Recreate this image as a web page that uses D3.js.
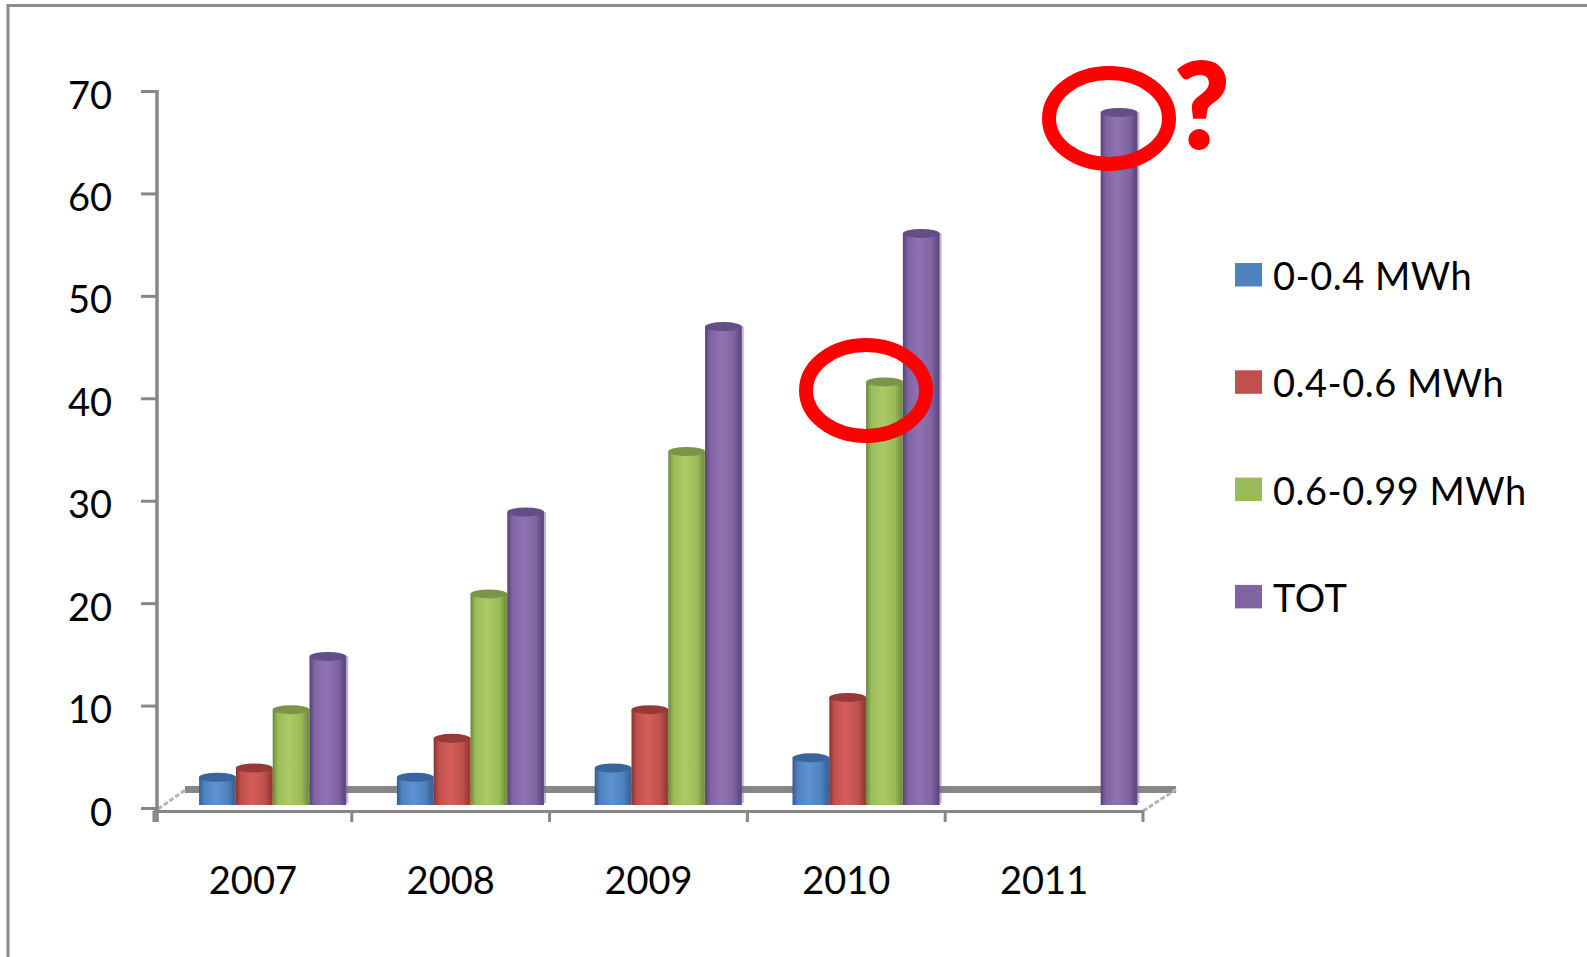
<!DOCTYPE html>
<html>
<head>
<meta charset="utf-8">
<script src="https://cdn.jsdelivr.net/npm/d3@7"></script>
<style>
  html, body { margin: 0; padding: 0; background: #ffffff; }
  svg { display: block; }
  text { font-family: Lato, "Open Sans", sans-serif; fill: #000; }
</style>
</head>
<body>
<svg id="chart" width="1587" height="957"></svg>
<script>
// ---------- data ----------
const years = ["2007", "2008", "2009", "2010", "2011"];
const seriesNames = ["0-0.4 MWh", "0.4-0.6 MWh", "0.6-0.99 MWh", "TOT"];
const s1 = [3.0, 3.0, 3.9, 4.9, null];      // 0-0.4 MWh
const s2 = [3.9, 6.8, 9.6, 10.8, null];     // 0.4-0.6 MWh
const s3 = [9.6, 20.9, 34.8, 41.6, null];   // 0.6-0.99 MWh
const s4 = [14.8, 28.9, 47.0, 56.1, 67.9];  // TOT
const yTicks = [0, 10, 20, 30, 40, 50, 60, 70];
const seriesColors = ["#4F81BD", "#C0504D", "#9BBB59", "#8064A2"];
const seriesShades = [
  { dark: "#355b8a", light: "#5d92d4", cap: "#3a659c" },
  { dark: "#8a3330", light: "#d65e5a", cap: "#973a37" },
  { dark: "#6b863b", light: "#abca64", cap: "#7b9547" },
  { dark: "#54417a", light: "#8e72b2", cap: "#634e88" }
];
const allSeries = [s1, s2, s3, s4];

// ---------- layout ----------
const svg = d3.select("#chart");
const axisX0 = 154, axisX1 = 1143;
const x0 = d3.scaleBand().domain(years).range([axisX0, axisX1]).paddingInner(0).paddingOuter(0);
const bw = x0.bandwidth();
const x1 = d3.scaleBand().domain(d3.range(4)).range([bw * 0.228, bw * 0.972]).padding(0);
const y = d3.scaleLinear().domain([0, 70]).range([808, 91]);
const barBase = 805;
const grey = "#878787";

// border
svg.append("rect").attr("x", 8).attr("y", 5.5).attr("width", 1700).attr("height", 1100)
  .attr("fill", "none").attr("stroke", "#8c8c8c").attr("stroke-width", 3);

// defs: gradients
const defs = svg.append("defs");
seriesShades.forEach((s, i) => {
  const g = defs.append("linearGradient").attr("id", "g" + i)
    .attr("x1", "0%").attr("x2", "100%").attr("y1", "0%").attr("y2", "0%");
  g.append("stop").attr("offset", "0%").attr("stop-color", s.dark);
  g.append("stop").attr("offset", "14%").attr("stop-color", seriesColors[i]);
  g.append("stop").attr("offset", "45%").attr("stop-color", s.light);
  g.append("stop").attr("offset", "78%").attr("stop-color", seriesColors[i]);
  g.append("stop").attr("offset", "100%").attr("stop-color", s.dark);
});

// floor back edge and side diagonals
const floorBackY = 789.5;
svg.append("line").attr("x1", 185).attr("x2", 1176).attr("y1", floorBackY).attr("y2", floorBackY)
  .attr("stroke", grey).attr("stroke-width", 7);
svg.append("line").attr("x1", 158).attr("y1", 809).attr("x2", 186).attr("y2", floorBackY)
  .attr("stroke", "#b5b5b5").attr("stroke-width", 3).attr("stroke-dasharray", "5,2");
svg.append("line").attr("x1", axisX1).attr("y1", 811).attr("x2", 1176).attr("y2", floorBackY)
  .attr("stroke", "#b5b5b5").attr("stroke-width", 3).attr("stroke-dasharray", "5,2");

// bars
const barData = [];
years.forEach((yr, i) => {
  allSeries.forEach((s, k) => {
    if (s[i] != null) barData.push({ year: yr, k: k, v: s[i] });
  });
});
const bars = svg.append("g").selectAll("g").data(barData).join("g");
bars.append("rect")
  .attr("x", d => x0(d.year) + x1(d.k))
  .attr("y", d => y(d.v))
  .attr("width", x1.bandwidth())
  .attr("height", d => barBase - y(d.v))
  .attr("fill", d => "url(#g" + d.k + ")");
bars.append("rect")
  .attr("x", d => x0(d.year) + x1(d.k) + x1.bandwidth() - 1)
  .attr("y", d => y(d.v))
  .attr("width", 3)
  .attr("height", d => barBase - y(d.v) - 2)
  .attr("fill", d => seriesColors[d.k]).attr("opacity", 0.45);
bars.append("ellipse")
  .attr("cx", d => x0(d.year) + x1(d.k) + x1.bandwidth() / 2)
  .attr("cy", d => y(d.v))
  .attr("rx", x1.bandwidth() / 2)
  .attr("ry", 4.5)
  .attr("fill", d => seriesShades[d.k].cap);

// front x axis line
svg.append("line").attr("x1", axisX0).attr("x2", axisX1).attr("y1", 811.5).attr("y2", 811.5)
  .attr("stroke", grey).attr("stroke-width", 3);
// boundary ticks
const bounds = years.map(d => x0(d)).concat([axisX1]);
svg.append("g").selectAll("line").data(bounds).join("line")
  .attr("x1", d => d).attr("x2", d => d).attr("y1", 811).attr("y2", 822)
  .attr("stroke", grey).attr("stroke-width", 3);

// x labels
const xAxis = d3.axisBottom(x0).tickSize(0).tickPadding(0);
const gx = svg.append("g").attr("transform", "translate(0,0)").call(xAxis);
gx.select(".domain").remove();
gx.selectAll(".tick text")
  .attr("y", 894).attr("dy", 0)
  .style("font-family", "Lato, 'Open Sans', sans-serif")
  .style("font-size", "38px").attr("fill", "#000");

// y axis
const yAxis = d3.axisLeft(y).tickValues(yTicks).tickSize(16).tickPadding(0);
const gy = svg.append("g").attr("transform", "translate(157,0)").call(yAxis);
gy.select(".domain").remove();
gy.selectAll(".tick line").attr("stroke", grey).attr("stroke-width", 3);
gy.selectAll(".tick text")
  .attr("x", -45).attr("y", 17).attr("dy", 0)
  .style("font-family", "Lato, 'Open Sans', sans-serif")
  .style("font-size", "38px").attr("fill", "#000");
svg.append("line").attr("x1", 157).attr("x2", 157).attr("y1", y(70) - 1).attr("y2", 822)
  .attr("stroke", grey).attr("stroke-width", 3.5);

// legend
const legend = svg.append("g").selectAll("g").data(seriesNames).join("g")
  .attr("transform", (d, i) => `translate(1235, ${263 + i * 107.3})`);
legend.append("rect").attr("width", 27).attr("height", 23.5)
  .attr("fill", (d, i) => seriesColors[i]);
legend.append("text").attr("x", 38).attr("y", 27)
  .style("font-size", "38px").style("letter-spacing", "0.5px").text(d => d);

// annotations
svg.append("ellipse").attr("cx", 866).attr("cy", 390.5).attr("rx", 60).attr("ry", 45.5)
  .attr("fill", "none").attr("stroke", "#ff0000").attr("stroke-width", 14);
svg.append("ellipse").attr("cx", 1109).attr("cy", 118.5).attr("rx", 60).attr("ry", 45.5)
  .attr("fill", "none").attr("stroke", "#ff0000").attr("stroke-width", 14);
svg.append("text").attr("x", 1202).attr("y", 148).attr("text-anchor", "middle")
  .style("font-family", "Lato, sans-serif").style("font-weight", "900")
  .style("font-size", "118px").style("fill", "#ff0000")
  .style("stroke", "#ff0000").style("stroke-width", "2px").text("?");
</script>
</body>
</html>
